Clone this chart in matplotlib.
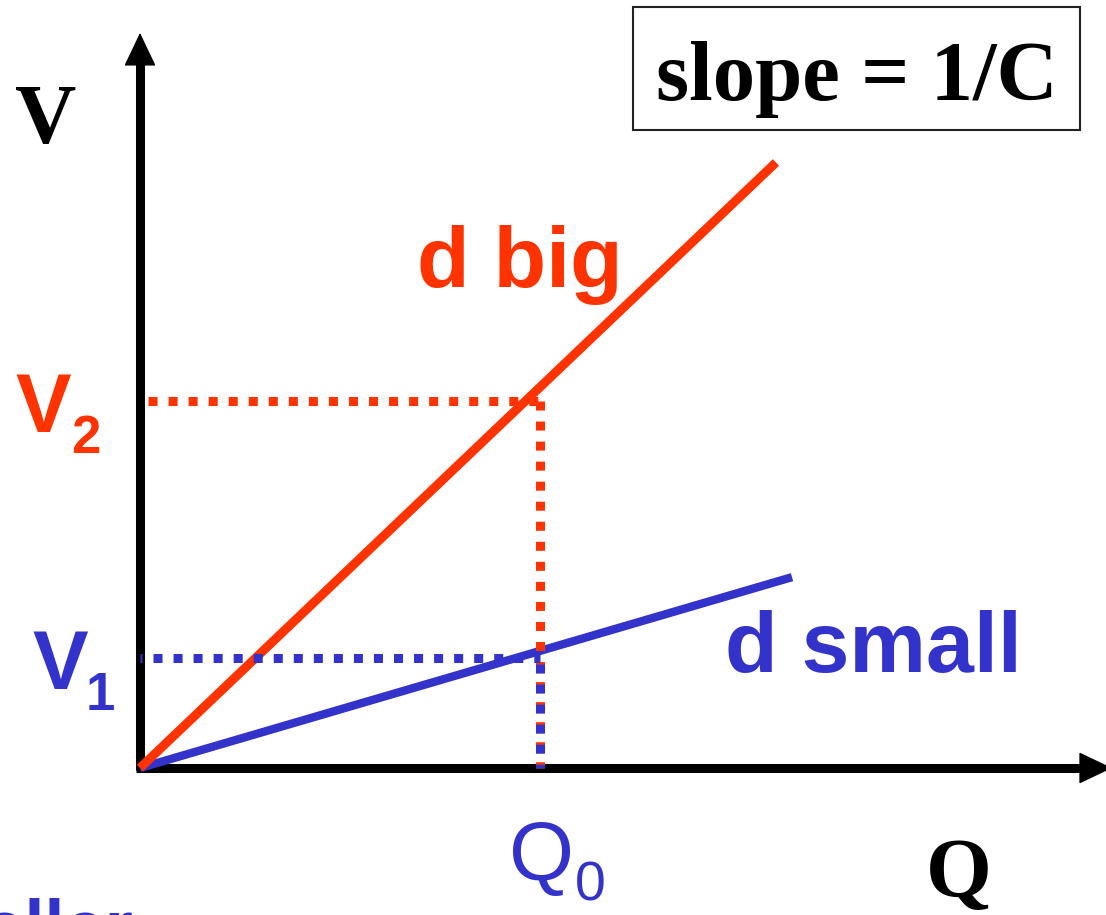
import matplotlib
matplotlib.use("Agg")
import matplotlib.pyplot as plt
from matplotlib.patches import Rectangle

# values on the Q-V plane
Q0 = 1.0
V1 = 0.30
V2 = 1.0
line_labels = ["d big", "d small"]
line_q = [[0.0, 1.59], [0.0, 1.63]]
line_v = [[0.0, 1.65], [0.0, 0.52]]
q_tip = 2.43   # end of the Q axis arrow
v_tip = 2.003  # end of the V axis arrow

RED = "#ff3300"
BLUE = "#3333cc"
SANS = "Liberation Sans"
SERIF = "Liberation Serif"

fig = plt.figure(figsize=(11.06, 9.15), dpi=100)
ax = fig.add_axes([0, 0, 1, 1])
ax.set_xlim(-0.35, 2.415)
ax.set_ylim(-147 / 367, 768 / 367)
ax.axis("off")

# axes with arrow heads
ax.plot([-0.01, q_tip - 0.05], [0, 0], color="black", lw=6.5, solid_capstyle="butt", zorder=1)
ax.plot([0, 0], [-0.006, v_tip - 0.06], color="black", lw=6.5, solid_capstyle="butt", zorder=1)
head = dict(arrowstyle="-|>,head_length=0.42,head_width=0.2", mutation_scale=52,
            color="black", lw=1, shrinkA=0, shrinkB=0)
ax.annotate("", xy=(q_tip, 0), xytext=(q_tip - 0.1, 0), arrowprops=head,
            annotation_clip=False, zorder=1)
ax.annotate("", xy=(0, v_tip), xytext=(0, v_tip - 0.1), arrowprops=head,
            annotation_clip=False, zorder=1)

# the two straight lines
ax.plot(line_q[1], line_v[1], color=BLUE, lw=6.0, solid_capstyle="butt", zorder=2)
ax.plot(line_q[0], line_v[0], color=RED, lw=6.5, solid_capstyle="butt", zorder=3)

# dotted guides from Q0 to V2 and V1
def dotted(q, v, color, offset, z):
    ax.plot(q, v, color=color, lw=6.5, linestyle=(offset, (1, 1.22)),
            dash_capstyle="butt", zorder=z)

dotted([0, Q0], [V2, V2], RED, 1.33, 4)
dotted([Q0, Q0], [V2, 0], RED, 0.0, 4)
dotted([0, Q0], [V1, V1], BLUE, 0.78, 5)
dotted([Q0, Q0], [V1, 0], BLUE, 1.55, 5)

# line labels
ax.text(0.6925, 1.3106, line_labels[0], color=RED, fontsize=62, fontweight="bold",
        family=SANS, ha="left", va="baseline")
ax.text(1.4625, 0.2616, line_labels[1], color=BLUE, fontsize=62, fontweight="bold",
        family=SANS, ha="left", va="baseline")

# level and charge labels
ax.text(-0.3125, 0.9155, "V", color=RED, fontsize=60, fontweight="bold", family=SANS, va="baseline")
ax.text(-0.1725, 0.858, "2", color=RED, fontsize=38, fontweight="bold", family=SANS, va="baseline")
ax.text(-0.27, 0.215, "V", color=BLUE, fontsize=60, fontweight="bold", family=SANS, va="baseline")
ax.text(-0.135, 0.158, "1", color=BLUE, fontsize=38, fontweight="bold", family=SANS, va="baseline")
ax.text(0.9225, -0.305, "Q", color=BLUE, fontsize=60, family=SANS, va="baseline")
ax.text(1.0875, -0.36, "0", color=BLUE, fontsize=40, family=SANS, va="baseline")

# axis names
ax.text(-0.235, 1.703, "V", fontsize=61, fontweight="bold", family=SERIF, ha="center", va="baseline")
ax.text(2.0475, -0.3515, "Q", fontsize=61, fontweight="bold", family=SERIF, ha="center", va="baseline")

# slope note in a box
ax.add_patch(Rectangle((0.5723, 0.8579), 0.4042, 0.1344, transform=ax.transAxes,
                       fill=False, edgecolor="#222222", lw=1.5, zorder=6))
ax.text(0.7744, 1 - 100 / 915, "slope = 1/C", transform=ax.transAxes, fontsize=61,
        fontweight="bold", family=SERIF, ha="center", va="baseline", zorder=6)

# caption running off the bottom edge
ax.text(-0.0175, -0.496, "smaller", color=BLUE, fontsize=52, fontweight="bold",
        family=SANS, ha="right", va="baseline")

fig.savefig("out.png", dpi=100)
